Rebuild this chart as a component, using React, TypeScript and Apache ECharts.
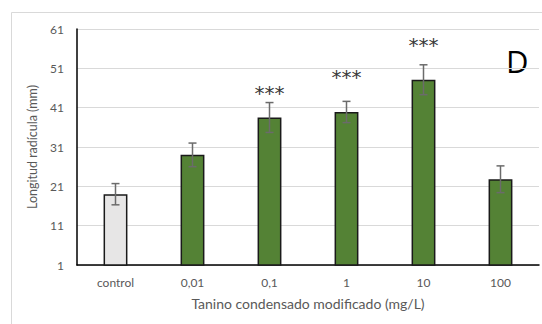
import React, { useEffect, useRef } from "react";
import * as echarts from "echarts";

const categories = ["control", "0,01", "0,1", "1", "10", "100"];
const meanValues = [19.0, 29.0, 38.5, 39.9, 48.1, 22.8];
const errorValues = [2.7, 3.0, 3.8, 2.7, 3.8, 3.4];
const starLabels = ["", "", "***", "***", "***", ""];
const starValues = [0, 0, 44.8, 48.7, 57.0, 0];
const yTicks = { min: 1, max: 61, interval: 10 };

const FONT = "Lato, 'Open Sans', sans-serif";
const GREEN = "#548235";
const GREY_FILL = "#e7e6e6";

export default function App() {
  const ref = useRef<HTMLDivElement>(null);
  useEffect(() => {
    if (!ref.current) return;
    const chart = echarts.init(ref.current, undefined, { renderer: "svg" });
    const barData = meanValues.map((v, i) => ({
      value: v,
      itemStyle: { color: i === 0 ? GREY_FILL : GREEN },
    }));
    const errData = meanValues.map((v, i) => [i, v - errorValues[i], v + errorValues[i]]);
    const starData = starLabels
      .map((s, i) => (s ? [i, starValues[i], s] : null))
      .filter((d) => d !== null);

    chart.setOption({
      animation: false,
      textStyle: { fontFamily: FONT },
      grid: { left: 77, right: 3, top: 29, bottom: 59 },
      graphic: [
        {
          type: "polyline",
          shape: { points: [[11.5, 400], [11.5, 12.5], [600, 12.5]] },
          style: { stroke: "#d9d9d9", lineWidth: 1, fill: "none" },
          silent: true,
        },
        {
          type: "text",
          left: 506,
          top: 45,
          style: { text: "D", fontSize: 31, fill: "#000", fontFamily: "'Open Sans', sans-serif" },
        },
      ],
      xAxis: {
        type: "category",
        data: categories,
        name: "Tanino condensado modificado (mg/L)",
        nameLocation: "middle",
        nameGap: 31,
        nameTextStyle: { fontSize: 14, color: "#595959", fontFamily: FONT },
        axisLine: { lineStyle: { color: "#000", width: 1.5 } },
        axisTick: { show: false },
        axisLabel: { fontSize: 12, color: "#595959", margin: 11, fontFamily: FONT },
      },
      yAxis: {
        type: "value",
        min: yTicks.min,
        max: yTicks.max,
        interval: yTicks.interval,
        name: "Longitud radícula (mm)",
        nameLocation: "middle",
        nameGap: 29,
        nameTextStyle: { fontSize: 12.5, color: "#595959", fontFamily: FONT },
        axisLine: { show: true, lineStyle: { color: "#000", width: 1.5 } },
        axisTick: { show: false },
        axisLabel: { fontSize: 12, color: "#595959", margin: 13, fontFamily: FONT },
        splitLine: { lineStyle: { color: "#d9d9d9", width: 1.2 } },
      },
      series: [
        {
          type: "bar",
          data: barData,
          barWidth: "31%",
          itemStyle: { borderColor: "#1a1a1a", borderWidth: 1.5 },
          z: 2,
        },
        {
          type: "custom",
          data: errData,
          z: 3,
          renderItem: (params: any, api: any) => {
            const x = api.value(0);
            const lo = api.coord([x, api.value(1)]);
            const hi = api.coord([x, api.value(2)]);
            const cap = 4;
            const style = { stroke: "#6b6b6b", lineWidth: 1.5 };
            return {
              type: "group",
              children: [
                { type: "line", shape: { x1: lo[0], y1: lo[1], x2: hi[0], y2: hi[1] }, style },
                { type: "line", shape: { x1: hi[0] - cap, y1: hi[1], x2: hi[0] + cap, y2: hi[1] }, style },
                { type: "line", shape: { x1: lo[0] - cap, y1: lo[1], x2: lo[0] + cap, y2: lo[1] }, style },
              ],
            };
          },
        },
        {
          type: "custom",
          data: starData,
          z: 4,
          renderItem: (params: any, api: any) => {
            const p = api.coord([api.value(0), api.value(1)]);
            const text = starData[params.dataIndex] ? (starData[params.dataIndex] as any)[2] : "";
            return {
              type: "text",
              x: p[0],
              y: p[1],
              style: {
                text,
                fill: "#3a3a3a",
                fontSize: 20,
                fontFamily: "'DejaVu Sans', sans-serif",
                align: "center",
                verticalAlign: "middle",
              },
            };
          },
        },
      ],
    });
    return () => chart.dispose();
  }, []);
  return (
    <div
      ref={ref}
      style={{ position: "fixed", left: 0, top: 0, width: 542, height: 324, background: "#fff" }}
    />
  );
}
